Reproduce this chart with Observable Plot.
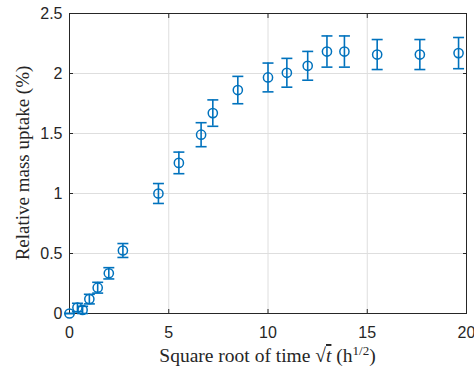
<!DOCTYPE html>
<html>
<head>
<meta charset="utf-8">
<script src="https://cdn.jsdelivr.net/npm/d3@7"></script>
<script src="https://cdn.jsdelivr.net/npm/@observablehq/plot@0.6"></script>
<style>
  html, body { margin: 0; padding: 0; background: #fff; }
  #chart svg { display: block; }
</style>
</head>
<body>
<div id="chart"></div>
<script>
// Data
const sqrtTime = [0, 0.4, 0.66, 1.0, 1.42, 1.98, 2.69, 4.48, 5.51, 6.63, 7.22, 8.48, 10.0, 10.95, 12.0, 12.97, 13.85, 15.5, 17.65, 19.6];
const uptake   = [0, 0.05, 0.03, 0.12, 0.215, 0.335, 0.525, 1.0, 1.255, 1.49, 1.67, 1.862, 1.967, 2.006, 2.064, 2.183, 2.183, 2.158, 2.158, 2.17];
const uptakeErr = [0, 0.035, 0.03, 0.04, 0.045, 0.047, 0.058, 0.083, 0.09, 0.1, 0.11, 0.114, 0.12, 0.12, 0.12, 0.13, 0.13, 0.125, 0.125, 0.13];

const xTicks = [0, 5, 10, 15, 20];
const xTickLabels = ["0", "5", "10", "15", "20"];
const yTicks = [0, 0.5, 1, 1.5, 2, 2.5];
const yTickLabels = ["0", "0.5", "1", "1.5", "2", "2.5"];

const data = sqrtTime.map((x, i) => ({x, y: uptake[i], e: uptakeErr[i]}));

const blue = "#0072BD";
const axisColor = "#262626";
const gridColor = "#dedede";

const capSymbol = {
  draw(ctx, size) {
    const w = Math.sqrt(size / Math.PI);
    ctx.moveTo(-w, 0);
    ctx.lineTo(w, 0);
  }
};

const plot = Plot.plot({
  width: 474,
  height: 370,
  marginLeft: 69,
  marginRight: 8,
  marginTop: 13,
  marginBottom: 57,
  style: {fontFamily: "'Liberation Sans', Arial, sans-serif", fontSize: "16px", color: axisColor, background: "#fff"},
  x: {domain: [0, 20], label: null},
  y: {domain: [0, 2.5], label: null},
  marks: [
    Plot.gridX(xTicks, {stroke: gridColor, strokeOpacity: 1}),
    Plot.gridY(yTicks, {stroke: gridColor, strokeOpacity: 1}),
    Plot.axisX(xTicks, {anchor: "bottom", tickSize: -4, tickPadding: 17, tickFormat: d => xTickLabels[xTicks.indexOf(d)], stroke: axisColor, fill: axisColor, label: null}),
    Plot.axisX(xTicks, {anchor: "top", tickSize: -4, tickFormat: () => "", stroke: axisColor, label: null}),
    Plot.axisY(yTicks, {anchor: "left", tickSize: -4, tickPadding: 11, tickFormat: d => yTickLabels[yTicks.indexOf(d)], stroke: axisColor, fill: axisColor, label: null}),
    Plot.axisY(yTicks, {anchor: "right", tickSize: -4, tickFormat: () => "", stroke: axisColor, label: null}),
    Plot.frame({stroke: axisColor, strokeWidth: 1}),
    Plot.ruleX(data, {x: "x", y1: d => d.y - d.e, y2: d => d.y + d.e, stroke: blue, strokeWidth: 1.6}),
    Plot.dot(data, {x: "x", y: d => d.y + d.e, symbol: capSymbol, r: 5.5, stroke: blue, strokeWidth: 1.6, fill: "none"}),
    Plot.dot(data, {x: "x", y: d => d.y - d.e, symbol: capSymbol, r: 5.5, stroke: blue, strokeWidth: 1.6, fill: "none"}),
    Plot.dot(data, {x: "x", y: "y", r: 4.6, stroke: blue, strokeWidth: 1.5, fill: "none"})
  ]
});

document.getElementById("chart").appendChild(plot);

// Axis titles (LaTeX-like serif)
const svg = d3.select(plot);
const serif = "'Liberation Serif', 'Times New Roman', serif";
const xl = svg.append("text")
  .attr("x", 267.5).attr("y", 362)
  .attr("text-anchor", "middle")
  .style("font-family", serif).style("font-size", "19.5px").attr("fill", axisColor);
xl.append("tspan").text("Square root of time ");
xl.append("tspan").text("\u221A");
xl.append("tspan").style("font-style", "italic").style("text-decoration", "overline").text("t");
xl.append("tspan").text(" (h");
xl.append("tspan").style("font-size", "13px").attr("dy", -7.5).text("1/2");
xl.append("tspan").attr("dy", 7.5).text(")");

svg.append("text")
  .attr("transform", "translate(28.5,163) rotate(-90)")
  .attr("text-anchor", "middle")
  .style("font-family", serif).style("font-size", "19px").attr("fill", axisColor)
  .text("Relative mass uptake (%)");
</script>
</body>
</html>
